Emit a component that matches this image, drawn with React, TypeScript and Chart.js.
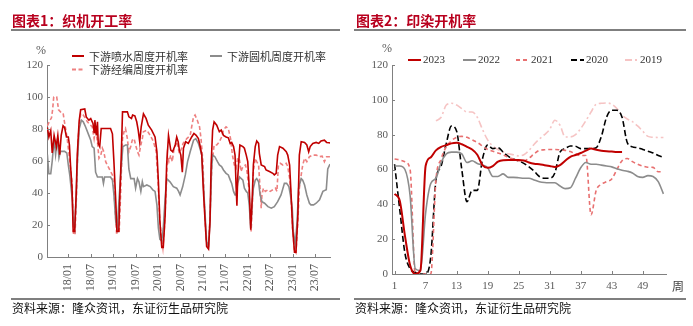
import React, { useEffect, useRef } from 'react';
import { Chart, registerables } from 'chart.js';

Chart.register(...registerables);

const SERIF = '"Liberation Serif", "Times New Roman", serif';
const CJK = '"Noto Sans CJK SC", "Noto Sans", sans-serif';
const AXIS = '#808080';
const LABEL = '#595959';
const TITLE = '#B8001E';

// ---------- Chart 1: loom operating rates (x = months since 2018-01) ----------
const loomTickMonths = [0, 6, 12, 18, 24, 30, 36, 42, 48, 54, 60, 66];
const loomTickLabels = ['18/01', '18/07', '19/01', '19/07', '20/01', '20/07', '21/01', '21/07', '22/01', '22/07', '23/01', '23/07'];

const jetSeries: [number, number][] = [
  [-5.6, 81], [-5.2, 75], [-4.7, 79], [-4.3, 65], [-3.8, 76], [-3.2, 69], [-2.8, 76], [-2.3, 64], [-1.9, 76], [-1.4, 82],
  [-1.0, 81], [-0.5, 75], [0.0, 75], [0.3, 70], [0.6, 57], [1.0, 43], [1.3, 16], [1.7, 16], [2.1, 39], [2.4, 64],
  [2.9, 85], [3.3, 92], [4.4, 92.5], [4.8, 87.5], [5.5, 85.5], [6.0, 86.5], [6.6, 83.5], [6.9, 78], [7.1, 85.5], [7.5, 76],
  [7.8, 84.5], [8.0, 71], [8.4, 69], [8.8, 80.3], [11.3, 80.3], [11.8, 77], [12.2, 59.6], [12.7, 34.6], [13.0, 16], [13.5, 16],
  [13.8, 39], [14.2, 66], [14.5, 90.7], [15.8, 90.7], [16.2, 87.6], [16.9, 86.6], [17.2, 88.7], [17.8, 88.2], [18.3, 84.5], [18.7, 79.3],
  [19.1, 72], [19.5, 81.4], [20.1, 89.5], [20.8, 86.6], [21.4, 82.4], [22.3, 79.3], [23.2, 75], [23.7, 65.8], [24.1, 47], [24.5, 22],
  [25.0, 6], [25.4, 6], [25.9, 26], [26.3, 57.5], [26.8, 76], [27.4, 66.8], [27.9, 65.8], [28.6, 70], [29.0, 75], [29.4, 72],
  [29.7, 66.8], [30.1, 63.7], [30.5, 53], [30.8, 68], [31.4, 72], [32.1, 71], [33.0, 75], [33.6, 77.2], [34.2, 76], [34.8, 74],
  [35.2, 70], [35.7, 63.7], [36.1, 43], [36.6, 22], [37.0, 6.6], [37.5, 5], [37.9, 22], [38.2, 57.5], [38.6, 79.3], [39.0, 84.5],
  [39.7, 82.4], [40.4, 78.3], [40.9, 79.3], [41.5, 76], [42.2, 75], [42.8, 74.5], [43.3, 71], [43.7, 71.6], [44.2, 69], [44.6, 63.7],
  [44.9, 43], [45.1, 32], [45.3, 49], [45.6, 60], [45.9, 70], [46.7, 69], [47.1, 68], [47.6, 63.7], [48.0, 59.6], [48.4, 43],
  [48.8, 17], [49.2, 36.7], [49.5, 57.5], [50.0, 69], [50.4, 72.5], [50.9, 71], [51.1, 64.8], [51.6, 57.5], [52.5, 56.5], [52.9, 54.4],
  [53.8, 53.4], [54.7, 52.3], [55.1, 51.3], [55.6, 52.3], [56.0, 63.7], [56.5, 69], [57.4, 68], [58.3, 65.8], [58.7, 63.7], [59.2, 57.5],
  [59.6, 38.8], [60.0, 18], [60.5, 3], [60.9, 3], [61.4, 26], [61.8, 63.7], [62.3, 72], [63.2, 71.6], [63.8, 70], [64.3, 65.8],
  [64.7, 69], [65.4, 71], [66.3, 71.6], [67.0, 71], [67.6, 72.5], [68.5, 73], [69.1, 71.6], [69.8, 71.4], [70.3, 71],
];

const circularSeries: [number, number][] = [
  [-5.6, 64], [-5.2, 52], [-4.7, 52], [-4.3, 60], [-3.8, 74], [-3.4, 64], [-2.9, 74], [-2.5, 62], [-2.1, 66], [-1.0, 66],
  [-0.4, 65], [0.0, 57.5], [0.4, 51], [1.1, 35], [1.3, 22], [1.7, 18], [2.1, 37], [2.4, 57.5], [2.9, 80], [3.5, 85.5],
  [4.0, 84.5], [4.6, 81.4], [5.5, 76], [6.0, 73], [6.4, 69], [6.9, 68], [7.3, 53], [7.8, 50], [9.1, 50], [9.4, 46],
  [9.7, 50], [11.3, 50], [11.8, 48], [12.2, 39], [12.7, 22], [13.1, 18], [13.6, 37], [14.2, 57.5], [14.6, 69], [15.3, 70],
  [15.8, 70], [16.2, 55], [16.7, 49], [17.6, 49], [18.0, 43], [18.5, 49], [18.9, 47], [19.4, 41], [19.8, 47], [20.1, 44],
  [21.0, 45], [21.9, 44], [22.6, 42], [23.2, 41], [23.7, 32.6], [24.1, 18], [24.5, 11], [25.0, 10], [25.4, 18], [25.9, 36.7],
  [26.3, 49], [27.2, 47], [28.1, 44], [29.0, 43], [29.5, 41], [29.9, 38.8], [30.6, 44], [31.3, 51.3], [31.9, 59.6], [32.6, 65.8],
  [33.5, 73], [34.1, 74], [34.8, 71], [35.2, 68], [35.7, 63.7], [36.1, 47], [36.6, 26], [37.0, 9.7], [37.5, 6.6], [37.9, 22],
  [38.3, 53.4], [38.6, 63.7], [39.2, 62.7], [39.9, 59.6], [40.4, 57.5], [41.0, 56.5], [41.5, 54.4], [42.2, 52.3], [42.8, 51.3], [43.3, 48.2],
  [43.7, 46], [44.2, 41], [44.6, 38.8], [44.9, 38.8], [45.3, 46], [45.8, 50], [46.7, 48], [47.1, 43], [47.6, 41], [48.0, 40],
  [48.4, 32.6], [48.8, 18], [49.2, 34.6], [49.5, 43], [50.0, 48], [50.4, 49], [50.9, 47], [51.3, 38.8], [51.8, 34.6], [52.5, 33.6],
  [53.4, 31.5], [54.3, 30.5], [55.1, 31.5], [56.0, 34.6], [56.9, 38.8], [57.8, 46], [58.4, 46], [59.0, 44], [59.4, 38.8], [59.9, 30.5],
  [60.2, 16], [60.7, 8], [61.2, 22], [61.6, 43], [62.3, 49], [62.7, 48], [63.2, 45], [63.8, 38.8], [64.5, 33.6], [64.9, 32.6],
  [65.6, 32.6], [66.3, 33.6], [67.2, 35.7], [68.1, 41], [69.0, 42], [69.4, 55], [70.0, 58],
];

const warpSeries: [number, number][] = [
  [-5.6, 82], [-5.0, 85], [-4.5, 87], [-4.2, 92], [-3.9, 100], [-3.1, 100], [-2.6, 92], [-2.1, 90.7], [-1.4, 90], [-1.0, 84],
  [-0.7, 80], [-0.3, 74], [0.2, 64], [0.6, 55], [1.0, 47], [1.4, 14], [1.8, 14], [2.2, 39], [2.6, 74], [3.3, 89.7],
  [4.0, 88.7], [4.6, 86.6], [5.1, 84.5], [5.9, 82.4], [6.4, 81.4], [6.9, 74], [7.3, 80.3], [7.8, 72], [8.2, 61.7], [8.7, 63.7],
  [9.1, 68], [9.5, 65.8], [10.0, 59.6], [10.4, 57.5], [10.9, 55.4], [11.3, 53.4], [11.8, 51.3], [12.2, 43], [12.9, 15], [13.6, 15],
  [14.0, 40], [14.5, 74], [14.9, 78.3], [15.3, 80.3], [15.8, 74], [16.2, 65.8], [16.7, 69], [17.1, 73], [17.6, 74], [18.0, 70],
  [18.5, 65.8], [18.9, 63.7], [19.4, 70], [19.8, 74], [20.1, 78.3], [21.0, 79.3], [21.9, 76], [22.8, 72], [23.5, 65.8], [24.0, 47],
  [24.4, 26], [24.8, 14], [25.3, 5.6], [25.7, 18], [26.2, 43], [26.5, 63.7], [26.9, 59.6], [27.4, 63.7], [27.8, 59.6], [28.3, 68],
  [29.0, 72], [29.7, 64.8], [30.3, 68], [30.7, 71], [31.7, 74], [32.6, 76], [33.0, 81.4], [33.5, 87.6], [33.9, 88.7], [34.5, 85.5],
  [35.1, 81.4], [35.5, 74], [36.0, 59.6], [36.4, 32.6], [36.9, 9.7], [37.5, 5.6], [37.9, 26], [38.4, 57.5], [39.0, 70], [39.7, 70],
  [40.4, 72], [41.0, 75], [41.5, 79.3], [42.2, 81.4], [42.8, 80.3], [43.4, 74], [43.9, 63.7], [44.4, 57.5], [44.9, 55.5], [45.3, 62],
  [45.8, 60.6], [46.2, 53.4], [46.7, 56.5], [47.4, 57.5], [47.8, 53.4], [48.3, 43], [48.6, 28.4], [48.9, 16], [49.2, 30.5], [49.5, 53.4],
  [50.0, 61.7], [50.4, 59.6], [50.9, 57.5], [51.3, 43], [51.6, 30.5], [51.8, 38.8], [52.2, 43], [52.7, 41], [53.4, 42], [54.0, 41],
  [54.7, 42], [55.4, 43], [55.8, 41], [56.2, 57.5], [56.7, 58.6], [57.4, 57.5], [58.3, 58.6], [58.7, 56.5], [59.2, 49.2], [59.6, 36.7],
  [60.0, 18], [60.5, 3.5], [60.9, 2.5], [61.4, 22], [61.8, 43], [62.3, 51.3], [62.7, 57.5], [63.2, 61.7], [63.8, 59.6], [64.5, 62.7],
  [65.4, 63.7], [66.3, 63.7], [67.2, 62.7], [67.9, 63], [68.5, 59.6], [69.1, 62.7], [70.0, 62.7],
];

// ---------- Chart 2: printing & dyeing operating rate by week ----------
const weekLabels = Array.from({ length: 53 }, (_, i) => String(i + 1));

const dye2023 = [46, 42, 22, 5, 0, 2, 62, 67, 71, 73, 74, 75, 75.3, 74.5, 73, 71.5, 68.5, 62.5, 61, 62,
  64.5, 65.3, 65.4, 65.4, 65.4, 65.2, 64, 63.3, 63, 62.5, 62, 61.5, 62.5, 65, 67.3, 68.3, 69.5, 70.8, 72, 71.3,
  70.8, 70.5, 70.3, 70, 70];
const dye2022 = [62, 62, 60, 45, 3, 2, 35, 52, 55, 64, 69, 70, 70, 69, 64, 65, 63.5, 62.5, 61, 56,
  56, 57.5, 55.5, 55.5, 55.3, 55, 55, 54, 53, 52.5, 52.4, 52.4, 50.5, 49, 49.5, 55, 61, 64, 63, 63,
  62.5, 62, 61.5, 60.5, 59.6, 59, 58, 56, 55.5, 56.5, 56, 53, 46];
const dye2021 = [66, 65.5, 64.5, 60, 0, 0, 0, 0, 54, 66, 73, 76.5, 78.5, 79, 78.5, 77, 75.5, 73.5, 71.5, 70.5,
  69.5, 68.5, 67, 66, 65, 65, 66.5, 69, 71, 71.3, 71.5, 71.5, 71.3, 71, 70.3, 69, 68, 68, 34, 48,
  51.5, 53, 54.5, 60, 65, 66.3, 64.5, 63, 62, 61.3, 61.2, 58.7, 58.7];
const dye2020 = [63, 37, 12, 3, 1, 0, 0, 10, 54, 62, 75, 85, 82, 60, 41.5, 48, 48, 66, 74, 72,
  72.5, 70, 67.5, 66, 65, 63.5, 61.5, 59, 56, 55, 55, 58, 70, 72, 73.5, 73.3, 72, 72, 72, 72.5,
  79, 90, 94, 94, 90, 75.5, 73, 72.5, 71.5, 70.5, 69.5, 68, 67];
const dye2019 = [null, null, null, null, null, null, null, null, 88, 90, 97, 98, 97, 95, 93, 93, 90, 83, 77, 73.5,
  71.5, 70, 69, 68.5, 67.8, 68.5, 71, 74.5, 77.5, 80, 83, 88.3, 85.4, 78.7, 78.7, 80, 83.5, 88, 93, 97.5,
  98, 98.2, 97.5, 95, 91.2, 89, 87.5, 85, 82, 79, 78.5, 78.4, 78.4];

type LegendItem = { index: number; x: number; y: number };

function makeLegend(items: LegendItem[], lineLength: number, gap: number, font: string) {
  return {
    id: 'lineLegend',
    afterDraw(chart: any) {
      const ctx: CanvasRenderingContext2D = chart.ctx;
      ctx.save();
      ctx.font = font;
      ctx.textBaseline = 'middle';
      ctx.textAlign = 'left';
      items.forEach((it) => {
        const ds = chart.data.datasets[it.index];
        ctx.beginPath();
        ctx.setLineDash(ds.borderDash || []);
        ctx.strokeStyle = ds.borderColor;
        ctx.lineWidth = Math.max(2, ds.borderWidth);
        ctx.moveTo(it.x, it.y);
        ctx.lineTo(it.x + lineLength, it.y);
        ctx.stroke();
        ctx.setLineDash([]);
        ctx.fillStyle = '#333333';
        ctx.fillText(ds.label, it.x + lineLength + gap, it.y + 0.5);
      });
      ctx.restore();
    },
  };
}

const insideTicks = {
  id: 'insideTicks',
  afterDraw(chart: any) {
    const { ctx, chartArea, scales } = chart;
    ctx.save();
    ctx.strokeStyle = AXIS;
    ctx.lineWidth = 1;
    ctx.beginPath();
    const xs = scales.x;
    xs.ticks.forEach((t: any, i: number) => {
      if (t.label === '' || t.label == null) return;
      const px = Math.round(xs.getPixelForTick(i)) + 0.5;
      ctx.moveTo(px, chartArea.bottom);
      ctx.lineTo(px, chartArea.bottom - 3);
    });
    const ys = scales.y;
    ys.ticks.forEach((_t: any, i: number) => {
      const py = Math.round(ys.getPixelForTick(i)) + 0.5;
      ctx.moveTo(chartArea.left, py);
      ctx.lineTo(chartArea.left + 3, py);
    });
    ctx.stroke();
    ctx.restore();
  },
};

const tickFont = { family: SERIF, size: 11 };

function yScale(width: number) {
  return {
    min: 0,
    max: 120,
    ticks: { stepSize: 20, font: tickFont, color: LABEL, padding: 4 },
    grid: { display: false, drawTicks: false },
    border: { color: AXIS, width: 1 },
    afterFit: (s: any) => { s.width = width; },
  };
}

const toXY = (arr: [number, number][]) => arr.map(([x, y]) => ({ x, y }));

export default function App() {
  const leftRef = useRef<HTMLCanvasElement>(null);
  const rightRef = useRef<HTMLCanvasElement>(null);

  useEffect(() => {
    const left = new Chart(leftRef.current as HTMLCanvasElement, {
      type: 'line',
      data: {
        datasets: [
          { label: '下游喷水周度开机率', data: toXY(jetSeries), borderColor: '#C00000', borderWidth: 1.6, pointRadius: 0, tension: 0, fill: false },
          { label: '下游圆机周度开机率', data: toXY(circularSeries), borderColor: '#8C8C8C', borderWidth: 1.6, pointRadius: 0, tension: 0, fill: false },
          { label: '下游经编周度开机率', data: toXY(warpSeries), borderColor: '#EE8080', borderWidth: 1.6, borderDash: [4, 2.5], pointRadius: 0, tension: 0, fill: false },
        ],
      } as any,
      options: {
        animation: false,
        responsive: false,
        layout: { padding: { left: 0, right: 16, top: 65, bottom: 0 } },
        plugins: { legend: { display: false }, tooltip: { enabled: false } },
        scales: {
          x: {
            type: 'linear',
            min: -5.7,
            max: 70,
            afterBuildTicks: (s: any) => { s.ticks = loomTickMonths.map((v) => ({ value: v })); },
            ticks: {
              autoSkip: false,
              minRotation: 90,
              maxRotation: 90,
              font: { family: SERIF, size: 12 },
              color: LABEL,
              padding: 7,
              callback: (_v: any, i: number) => loomTickLabels[i],
            },
            grid: { display: false, drawTicks: false },
            border: { color: AXIS, width: 1 },
            afterFit: (s: any) => { s.height = 69; },
          },
          y: yScale(47),
        },
      } as any,
      plugins: [
        insideTicks,
        makeLegend([
          { index: 0, x: 72, y: 56 },
          { index: 1, x: 210, y: 56 },
          { index: 2, x: 72, y: 69.5 },
        ], 12, 5, `11px ${CJK}`),
      ],
    });

    const right = new Chart(rightRef.current as HTMLCanvasElement, {
      type: 'line',
      data: {
        labels: weekLabels,
        datasets: [
          { label: '2023', data: dye2023, borderColor: '#C00000', borderWidth: 2 },
          { label: '2022', data: dye2022, borderColor: '#8C8C8C', borderWidth: 1.6 },
          { label: '2021', data: dye2021, borderColor: '#E87070', borderWidth: 1.6, borderDash: [4, 3] },
          { label: '2020', data: dye2020, borderColor: '#000000', borderWidth: 1.6, borderDash: [6, 3] },
          { label: '2019', data: dye2019, borderColor: '#F6C4C4', borderWidth: 1.6, borderDash: [7, 3, 2, 3] },
        ].map((d) => ({ ...d, pointRadius: 0, fill: false, tension: 0.4, cubicInterpolationMode: 'monotone', spanGaps: false })),
      } as any,
      options: {
        animation: false,
        responsive: false,
        layout: { padding: { left: 0, right: 27, top: 65, bottom: 0 } },
        plugins: { legend: { display: false }, tooltip: { enabled: false } },
        scales: {
          x: {
            type: 'category',
            offset: true,
            ticks: {
              autoSkip: false,
              maxRotation: 0,
              minRotation: 0,
              font: tickFont,
              color: LABEL,
              padding: 6,
              callback: (_v: any, i: number) => (i % 6 === 0 ? weekLabels[i] : ''),
            },
            grid: { display: false, drawTicks: false },
            border: { color: AXIS, width: 1 },
            afterFit: (s: any) => { s.height = 52; },
          },
          y: yScale(46),
        },
      } as any,
      plugins: [
        insideTicks,
        makeLegend([
          { index: 0, x: 62, y: 60 },
          { index: 1, x: 117, y: 60 },
          { index: 2, x: 170, y: 60 },
          { index: 3, x: 225, y: 60 },
          { index: 4, x: 279, y: 60 },
        ], 13, 2, `11px ${SERIF}`),
      ],
    });

    return () => {
      left.destroy();
      right.destroy();
    };
  }, []);

  const abs = (s: React.CSSProperties): React.CSSProperties => ({ position: 'absolute', margin: 0, whiteSpace: 'nowrap', ...s });

  return (
    <div style={{ position: 'absolute', left: 0, top: 0, width: 693, height: 326, background: '#ffffff', overflow: 'hidden' }}>
      <canvas ref={leftRef} width={346} height={326} style={abs({ left: 0, top: 0, width: 346, height: 326 })} />
      <canvas ref={rightRef} width={347} height={326} style={abs({ left: 346, top: 0, width: 347, height: 326 })} />

      <div style={abs({ left: 12, top: 11, font: `bold 14px ${CJK}`, lineHeight: '18px', color: TITLE })}>图表1：织机开工率</div>
      <div style={abs({ left: 356, top: 11, font: `bold 14px ${CJK}`, lineHeight: '18px', color: TITLE })}>图表2：印染开机率</div>
      <div style={abs({ left: 11, top: 29, width: 329, height: 2, background: '#7f7f7f' })} />
      <div style={abs({ left: 354, top: 29, width: 332, height: 2, background: '#7f7f7f' })} />

      <div style={abs({ left: 36, top: 43, font: `12px ${SERIF}`, lineHeight: '14px', color: LABEL })}>%</div>
      <div style={abs({ left: 382, top: 41, font: `12px ${SERIF}`, lineHeight: '14px', color: LABEL })}>%</div>
      <div style={abs({ left: 672, top: 278, font: `12px ${CJK}`, lineHeight: '16px', color: '#404040' })}>周</div>

      <div style={abs({ left: 11, top: 298, width: 329, height: 2, background: '#7f7f7f' })} />
      <div style={abs({ left: 354, top: 298, width: 332, height: 2, background: '#7f7f7f' })} />
      <div style={abs({ left: 12, top: 300, font: `12px ${CJK}`, lineHeight: '16px', color: '#111111' })}>资料来源：隆众资讯，东证衍生品研究院</div>
      <div style={abs({ left: 355, top: 300, font: `12px ${CJK}`, lineHeight: '16px', color: '#111111' })}>资料来源：隆众资讯，东证衍生品研究院</div>
    </div>
  );
}
